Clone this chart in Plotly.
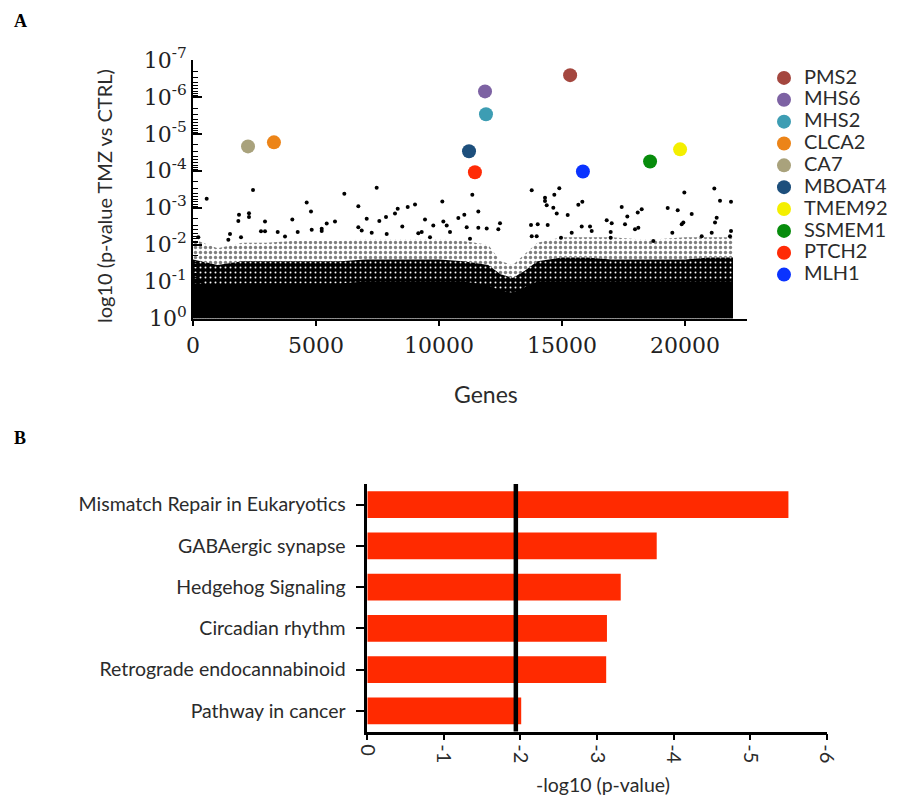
import math
import plotly.graph_objects as go

# ---------------- Panel A data ----------------
# Highlighted genes: gene index and -log10(p-value)
hit_genes = ["PMS2", "MHS6", "MHS2", "CLCA2", "CA7", "MBOAT4", "TMEM92", "SSMEM1", "PTCH2", "MLH1"]
hit_index = [15330, 11870, 11910, 3290, 2236, 11220, 19800, 18580, 11460, 15850]
hit_neglogp = [6.59, 6.15, 5.53, 4.77, 4.66, 4.53, 4.58, 4.25, 3.96, 3.98]
hit_colors = ["#a4473f", "#7d62a3", "#3d9db3", "#ec8418", "#a9a27c", "#1d4f7c",
              "#f4ef00", "#078c0c", "#ff2b06", "#0a33ff"]

# Bulk of genes: envelope of the dense point cloud (-log10 p)
cloud_index = [0, 1000, 2000, 3000, 4000, 5000, 6000, 7000, 8000, 9000, 10000, 11000,
               12000, 12500, 13000, 13500, 14000, 15000, 16000, 17000, 18000, 19000,
               20000, 21000, 21950]
cloud_core = [0.95, 0.9, 0.95, 0.95, 0.95, 0.95, 0.95, 1.0, 1.0, 1.0, 1.0, 1.0,
              0.9, 0.75, 0.7, 0.85, 1.0, 1.0, 1.0, 1.0, 1.0, 1.0, 1.0, 1.0, 1.0]
cloud_mid = [1.6, 1.45, 1.55, 1.55, 1.55, 1.55, 1.55, 1.6, 1.6, 1.6, 1.6, 1.55,
             1.45, 1.2, 1.1, 1.3, 1.55, 1.65, 1.65, 1.6, 1.6, 1.6, 1.6, 1.65, 1.65]
cloud_outer = [2.15, 1.9, 2.05, 2.05, 2.1, 2.1, 2.1, 2.15, 2.15, 2.15, 2.15, 2.1,
               2.0, 1.55, 1.45, 1.75, 2.05, 2.2, 2.2, 2.2, 2.15, 2.15, 2.2, 2.2, 2.2]

# Individual genes standing out above the cloud
sparse_index = [556, 2440, 6152, 7466, 4621, 4797, 6721, 4037, 1870, 2276, 2276, 1843, 2927,
                5772, 5435, 7574, 7846, 8211, 8321, 8728, 9025, 10135, 11354, 11029, 9431,
                10176, 10786, 7061, 8508, 9768, 10313, 4825, 5232, 5232, 6720, 6858, 7264,
                7874, 1504, 1436, 2927, 2764, 3443, 3740, 4256, 1951, 9296, 9158, 9634,
                10447, 11126, 11260, 217,
                11598, 13768, 14890, 14309, 14309, 14378, 14687, 14647, 14785, 15232, 15663,
                15826, 15801, 17427, 17655, 18078, 18240, 19297, 19703, 19973, 20272, 21191,
                21423, 21870, 21287, 21220, 12480, 12412, 11939, 11598, 13740, 14012, 14418,
                16817, 17020, 17561, 17967, 18103, 19866, 19932, 19484, 21870, 16139, 16207,
                15394, 13768, 13971, 14959, 16980, 16980, 18711, 20678, 21085, 21829]
sparse_neglogp = [3.24, 3.48, 3.38, 3.54, 3.14, 2.90, 3.04, 2.68, 2.81, 2.85, 2.75, 2.64, 2.63,
                  2.63, 2.57, 2.64, 2.75, 2.84, 2.97, 3.02, 3.09, 3.17, 3.35, 2.81, 2.68,
                  2.63, 2.72, 2.70, 2.49, 2.52, 2.52, 2.40, 2.43, 2.37, 2.47, 2.38, 2.32,
                  2.29, 2.29, 2.13, 2.36, 2.36, 2.34, 2.22, 2.34, 2.20, 2.34, 2.31, 2.20,
                  2.34, 2.47, 2.16, 2.20,
                  2.90, 3.47, 3.53, 3.27, 3.18, 3.07, 3.35, 3.00, 2.84, 2.80, 3.08,
                  3.16, 2.49, 3.02, 2.76, 2.87, 2.96, 2.99, 2.93, 3.41, 2.83, 3.52,
                  3.19, 3.16, 2.73, 2.60, 2.58, 2.42, 2.44, 2.46, 2.53, 2.55, 2.53,
                  2.66, 2.58, 2.55, 2.42, 2.46, 2.55, 2.60, 2.32, 2.37, 2.49, 2.37,
                  2.32, 2.23, 2.23, 2.19, 2.34, 2.19, 2.10, 2.23, 2.32, 2.23]

a_xticks = [0, 5000, 10000, 15000, 20000]
a_xticktext = ["0", "5000", "10000", "15000", "20000"]
a_yticks = [0, 1, 2, 3, 4, 5, 6, 7]
a_yticktext = ["10<sup>0</sup>", "10<sup>-1</sup>", "10<sup>-2</sup>", "10<sup>-3</sup>",
               "10<sup>-4</sup>", "10<sup>-5</sup>", "10<sup>-6</sup>", "10<sup>-7</sup>"]

# ---------------- Panel B data ----------------
pathways = ["Mismatch Repair in Eukaryotics", "GABAergic synapse", "Hedgehog Signaling",
            "Circadian rhythm", "Retrograde endocannabinoid", "Pathway in cancer"]
pathway_vals = [-5.5, -3.78, -3.31, -3.13, -3.12, -2.01]
threshold = -1.94
b_xticks = [0, -1, -2, -3, -4, -5, -6]
b_xticktext = ["0", "-1", "-2", "-3", "-4", "-5", "-6"]

# page has an 8px body margin; figure sized to fit inside the 901x805 window
OFF = 8
W, H = 901 - 2 * OFF, 805 - 2 * OFF
def px(x): return (x - OFF) / W
def py(y): return 1 - (y - OFF) / H

SANS = "Lato"
SERIF = "DejaVu Serif"
TXT = "#2b2b2b"

fig = go.Figure()

# cloud layers
fig.add_trace(go.Scatter(x=cloud_index, y=cloud_outer, mode="lines", fill="tozeroy",
                         line=dict(width=0, color="black"), fillcolor="rgba(0,0,0,0)",
                         fillpattern=dict(shape=".", size=5, solidity=0.35, fgcolor="black",
                                          bgcolor="rgba(0,0,0,0)"),
                         showlegend=False, hoverinfo="skip", xaxis="x", yaxis="y"))
fig.add_trace(go.Scatter(x=cloud_index, y=cloud_mid, mode="lines", fill="tozeroy",
                         line=dict(width=0, color="black"), fillcolor="black",
                         fillpattern=dict(shape=".", size=5, solidity=0.12, fgcolor="white",
                                          bgcolor="black", fillmode="replace"),
                         showlegend=False, hoverinfo="skip", xaxis="x", yaxis="y"))
fig.add_trace(go.Scatter(x=cloud_index, y=cloud_core, mode="lines", fill="tozeroy",
                         line=dict(width=0, color="black"), fillcolor="black",
                         showlegend=False, hoverinfo="skip", xaxis="x", yaxis="y"))
fig.add_trace(go.Scatter(x=sparse_index, y=sparse_neglogp, mode="markers",
                         marker=dict(size=4, color="black"),
                         showlegend=False, xaxis="x", yaxis="y"))

for g, xi, yi, c in zip(hit_genes, hit_index, hit_neglogp, hit_colors):
    fig.add_trace(go.Scatter(x=[xi], y=[yi], mode="markers",
                             name='<span style="font-size:20px">' + g + '</span>',
                             marker=dict(size=14, color=c), xaxis="x", yaxis="y"))

# panel B bars
fig.add_trace(go.Bar(x=pathway_vals, y=pathways, orientation="h",
                     marker=dict(color="#ff2a00", line=dict(width=0)),
                     showlegend=False, xaxis="x2", yaxis="y2"))

minor_vals = [k + 1 - math.log10(m) for k in range(7) for m in range(2, 10)]

def ann(text, x, y, size, family=SANS, angle=0, color=TXT):
    return dict(text=text, x=px(x), y=py(y), xref="paper", yref="paper",
                xanchor="center", yanchor="middle", textangle=angle, showarrow=False,
                font=dict(family=family, size=size, color=color))

fig.update_layout(
    width=W, height=H, margin=dict(l=0, r=0, t=0, b=0, pad=0, autoexpand=False),
    paper_bgcolor="white", plot_bgcolor="white",
    showlegend=True,
    legend=dict(x=px(764), y=py(62), xanchor="left", yanchor="top",
                font=dict(family=SANS, size=14.5, color=TXT),
                bgcolor="rgba(0,0,0,0)", tracegroupgap=0, itemclick=False),
    xaxis=dict(domain=[px(193), px(747)], range=[0, 22520], showgrid=False, zeroline=False,
               showline=True, linecolor="black", linewidth=1.5,
               tickmode="array", tickvals=a_xticks, ticktext=a_xticktext,
               ticks="outside", ticklen=6, tickwidth=1.5, tickcolor="black",
               tickfont=dict(family=SERIF, size=22, color="#222"), anchor="y"),
    yaxis=dict(domain=[py(318.5), py(60)], range=[0, 7], showgrid=False, zeroline=False,
               showline=True, linecolor="black", linewidth=1.5,
               tickmode="array", tickvals=a_yticks, ticktext=a_yticktext,
               ticks="inside", ticklen=9, tickwidth=1.5, tickcolor="black",
               minor=dict(tickmode="array", tickvals=minor_vals, ticks="inside",
                          ticklen=5, tickwidth=1, tickcolor="black", showgrid=False),
               tickfont=dict(family=SERIF, size=22, color="#222"), anchor="x"),
    xaxis2=dict(domain=[px(367.3), px(826.7)], range=[0, -6], showgrid=False, zeroline=False,
                showline=True, linecolor="black", linewidth=2.5,
                tickmode="array", tickvals=b_xticks, ticktext=b_xticktext,
                ticks="outside", ticklen=6, tickwidth=2, tickcolor="black", tickangle=90,
                tickfont=dict(family=SANS, size=20, color=TXT), anchor="y2"),
    yaxis2=dict(domain=[py(731.5), py(484)], autorange="reversed", showgrid=False,
                zeroline=False, showline=True, linecolor="black", linewidth=2.5,
                ticks="outside", ticklen=9, tickwidth=2, tickcolor="black",
                ticklabelstandoff=6,
                tickfont=dict(family=SANS, size=19.5, color=TXT), anchor="x2"),
    bargap=0.355,
    shapes=[dict(type="line", xref="x2", yref="y2 domain", x0=threshold, x1=threshold,
                 y0=0, y1=1, line=dict(color="black", width=4.5))],
    annotations=[
        ann("<b>A</b>", 20, 21, 18, family="Liberation Serif", color="black"),
        ann("<b>B</b>", 20, 438, 18, family="Liberation Serif", color="black"),
        ann("log10 (p-value TMZ vs CTRL)", 104, 196, 20, angle=-90),
        ann("Genes", 486, 394, 23),
        ann("-log10 (p-value)", 603, 784, 19.5),
    ],
)

fig.write_html("out.html")
